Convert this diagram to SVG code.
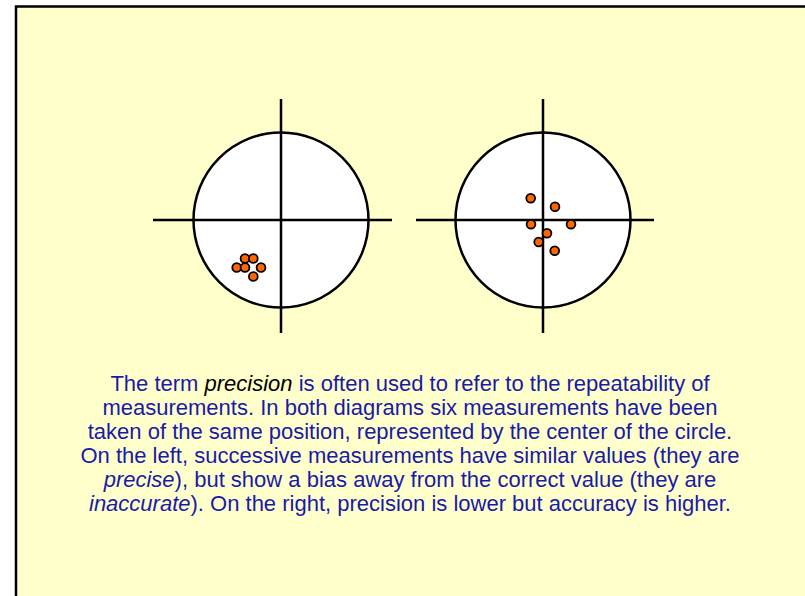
<svg xmlns="http://www.w3.org/2000/svg" width="805" height="596" viewBox="0 0 805 596">
<style>
.target{fill:#ffffff;stroke:#000;stroke-width:2.5}
.axis{stroke:#000;stroke-width:2.5;fill:none}
.dot{fill:#ff6600;stroke:#000;stroke-width:1.8}
.txt{font-family:"Liberation Sans",Arial,sans-serif;font-size:22px;fill:#1a1aa8;text-anchor:middle}
.em{font-style:italic}
</style>
<rect x="0" y="0" width="805" height="596" fill="#ffffff"/>
<rect x="16" y="6.5" width="800" height="600" fill="#ffffcc" stroke="#000" stroke-width="2.5"/>
<g id="left-target">
<circle class="target" cx="281" cy="220" r="87.5"/>
<line class="axis" x1="153" y1="220" x2="392" y2="220"/>
<line class="axis" x1="281" y1="99" x2="281" y2="333"/>
<circle class="dot" cx="245" cy="258.5" r="4.4"/>
<circle class="dot" cx="253.3" cy="258.5" r="4.4"/>
<circle class="dot" cx="236.7" cy="267.5" r="4.4"/>
<circle class="dot" cx="245" cy="267.5" r="4.4"/>
<circle class="dot" cx="261" cy="267.5" r="4.4"/>
<circle class="dot" cx="253.3" cy="276.5" r="4.4"/>
</g>
<g id="right-target">
<circle class="target" cx="543" cy="220" r="87.5"/>
<line class="axis" x1="416" y1="220" x2="654" y2="220"/>
<line class="axis" x1="543" y1="99" x2="543" y2="333"/>
<circle class="dot" cx="530.7" cy="198.3" r="4.4"/>
<circle class="dot" cx="555" cy="206.7" r="4.4"/>
<circle class="dot" cx="531" cy="224.3" r="4.4"/>
<circle class="dot" cx="571" cy="224.3" r="4.4"/>
<circle class="dot" cx="547" cy="233.3" r="4.4"/>
<circle class="dot" cx="538.7" cy="242" r="4.4"/>
<circle class="dot" cx="554.7" cy="250.7" r="4.4"/>
</g>
<g id="caption">
<text class="txt" x="410" y="391">The term <tspan class="em" fill="#000000">precision</tspan> is often used to refer to the repeatability of</text>
<text class="txt" x="410" y="415">measurements. In both diagrams six measurements have been</text>
<text class="txt" x="410" y="439">taken of the same position, represented by the center of the circle.</text>
<text class="txt" x="410" y="463">On the left, successive measurements have similar values (they are</text>
<text class="txt" x="410" y="487"><tspan class="em">precise</tspan>), but show a bias away from the correct value (they are</text>
<text class="txt" x="410" y="511"><tspan class="em">inaccurate</tspan>). On the right, precision is lower but accuracy is higher.</text>
</g>
</svg>
